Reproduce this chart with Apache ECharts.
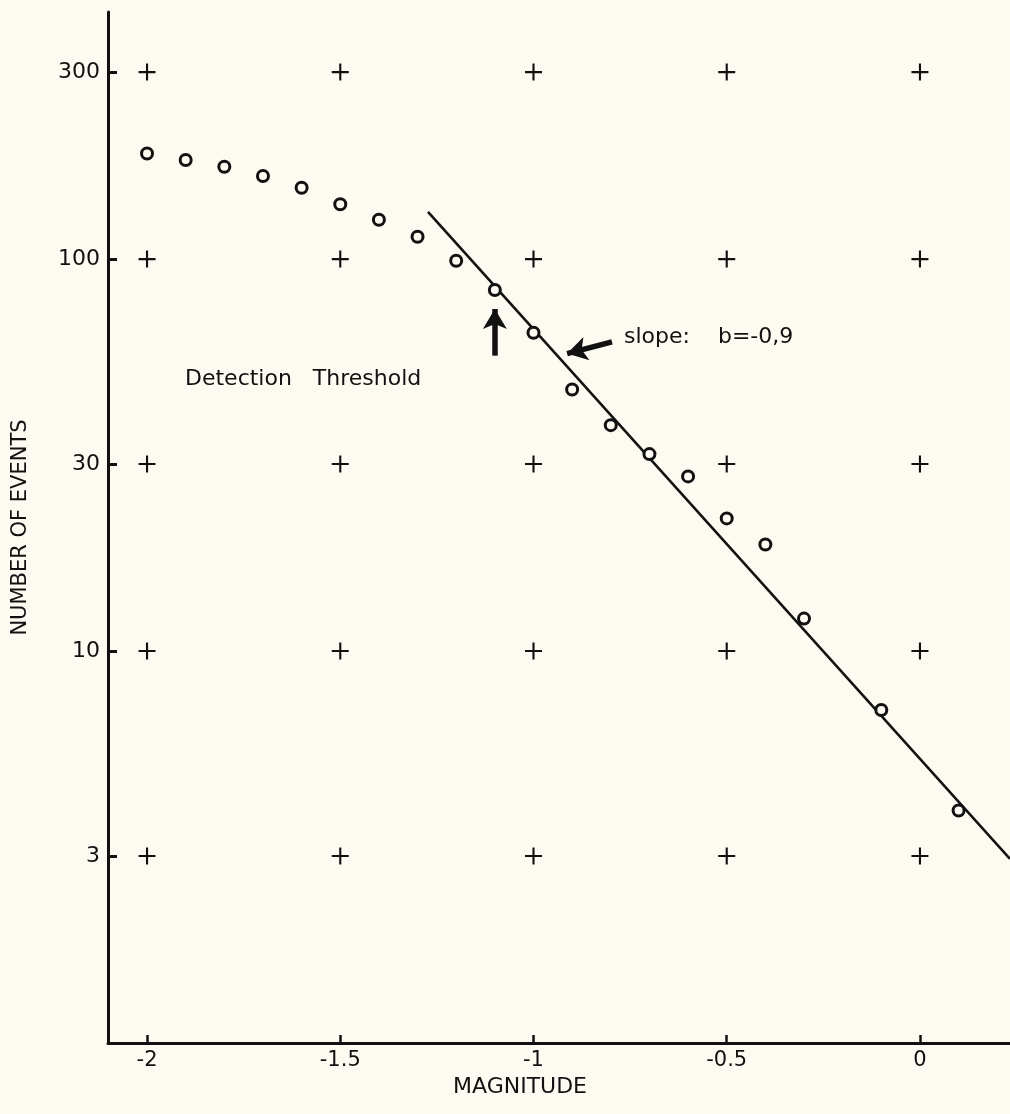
<!DOCTYPE html>
<html>
<head>
<meta charset="utf-8">
<script src="https://cdn.jsdelivr.net/npm/echarts@6/dist/echarts.min.js"></script>
<style>
html,body{margin:0;padding:0;background:#fdfbf1;}
#chart{width:1010px;height:1114px;}
</style>
</head>
<body>
<div id="chart"></div>
<script>
// ---- data ----
var magnitudes = [-2.0,-1.9,-1.8,-1.7,-1.6,-1.5,-1.4,-1.3,-1.2,-1.1,-1.0,-0.9,-0.8,-0.7,-0.6,-0.5,-0.4,-0.3,-0.1,0.1];
var eventCounts = [186,179,172,163,152,138,126,114,99,83.4,64.9,46.5,37.7,31.8,27.9,21.8,18.7,12.1,7.07,3.92];
var fitLine = [[-1.273,132],[0.233,2.95]];
var xTickValues = [-2,-1.5,-1,-0.5,0];
var xTickLabels = ['-2','-1.5','-1','-0.5','0'];
var yTickValues = [3,10,30,100,300];
var yTickLabels = ['3','10','30','100','300'];
var thresholdArrow = [[-1.1,56.7],[-1.1,74.6]];
var slopeArrow = [[-0.797,61.5],[-0.913,57.4]];

var ink = '#111';
var bg = '#fdfbf1';
var font = 'DejaVu Sans';

var crosses = [];
xTickValues.forEach(function(x){ yTickValues.forEach(function(y){ crosses.push([x,y]); }); });
var points = magnitudes.map(function(m,i){ return [m, eventCounts[i]]; });

var chart = echarts.init(document.getElementById('chart'), null, {renderer:'canvas'});
chart.setOption({
  backgroundColor: bg,
  animation: false,
  grid: {left:108, right:0, top:12, bottom:71, containLabel:false},
  xAxis: {
    type:'value', min:-2.101, max:0.233,
    name:'MAGNITUDE', nameLocation:'middle', nameGap:32,
    nameTextStyle:{color:ink, fontFamily:font, fontSize:22, padding:[0,78,0,0]},
    axisLine:{show:true, onZero:false, lineStyle:{color:ink, width:3}},
    axisTick:{show:true, inside:true, length:8, lineStyle:{color:ink, width:2.5}, customValues:xTickValues},
    axisLabel:{color:ink, fontFamily:font, fontSize:21, margin:7, customValues:xTickValues,
      formatter:function(v){ var i = xTickValues.indexOf(v); return i>=0 ? xTickLabels[i] : ''; }},
    splitLine:{show:false}
  },
  yAxis: {
    type:'log', logBase:10, min:1, max:427,
    name:'NUMBER OF EVENTS', nameLocation:'middle', nameGap:77, nameRotate:90,
    nameTextStyle:{color:ink, fontFamily:font, fontSize:21},
    axisLine:{show:true, onZero:false, lineStyle:{color:ink, width:3}},
    axisTick:{show:true, inside:true, length:9, lineStyle:{color:ink, width:3}, customValues:yTickValues},
    axisLabel:{color:ink, fontFamily:font, fontSize:22, margin:8, customValues:yTickValues,
      formatter:function(v){ for (var i=0;i<yTickValues.length;i++){ if (Math.abs(yTickValues[i]-v)<1e-6) return yTickLabels[i]; } return ''; }},
    splitLine:{show:false}
  },
  series: [
    {
      type:'scatter', name:'grid marks', data:crosses, z:1,
      symbol:'path://M0,7.0H16V9.0H0Z M7.0,0H9.0V16H7.0Z', symbolSize:17,
      itemStyle:{color:ink, opacity:1}, silent:true
    },
    {
      type:'line', name:'fit', data:fitLine, z:2, symbol:'none',
      lineStyle:{color:ink, width:2.6}, silent:true,
      markLine:{
        silent:true, symbol:['none','arrow'], symbolSize:[18,20],
        label:{show:false},
        lineStyle:{color:ink, width:5.5, type:'solid', opacity:1},
        data:[
          [{coord:thresholdArrow[0]},{coord:thresholdArrow[1]}],
          [{coord:slopeArrow[0]},{coord:slopeArrow[1]}]
        ]
      }
    },
    {
      type:'scatter', name:'events', data:points, z:3,
      symbol:'circle', symbolSize:11,
      itemStyle:{color:bg, borderColor:ink, borderWidth:3, opacity:1}
    }
  ],
  graphic: [
    {type:'text', left:185, top:368, style:{text:'Detection   Threshold', fill:ink, font:'22px "DejaVu Sans"'}},
    {type:'text', left:624, top:326, style:{text:'slope:    b=-0,9', fill:ink, font:'22px "DejaVu Sans"'}}
  ]
});
</script>
</body>
</html>
